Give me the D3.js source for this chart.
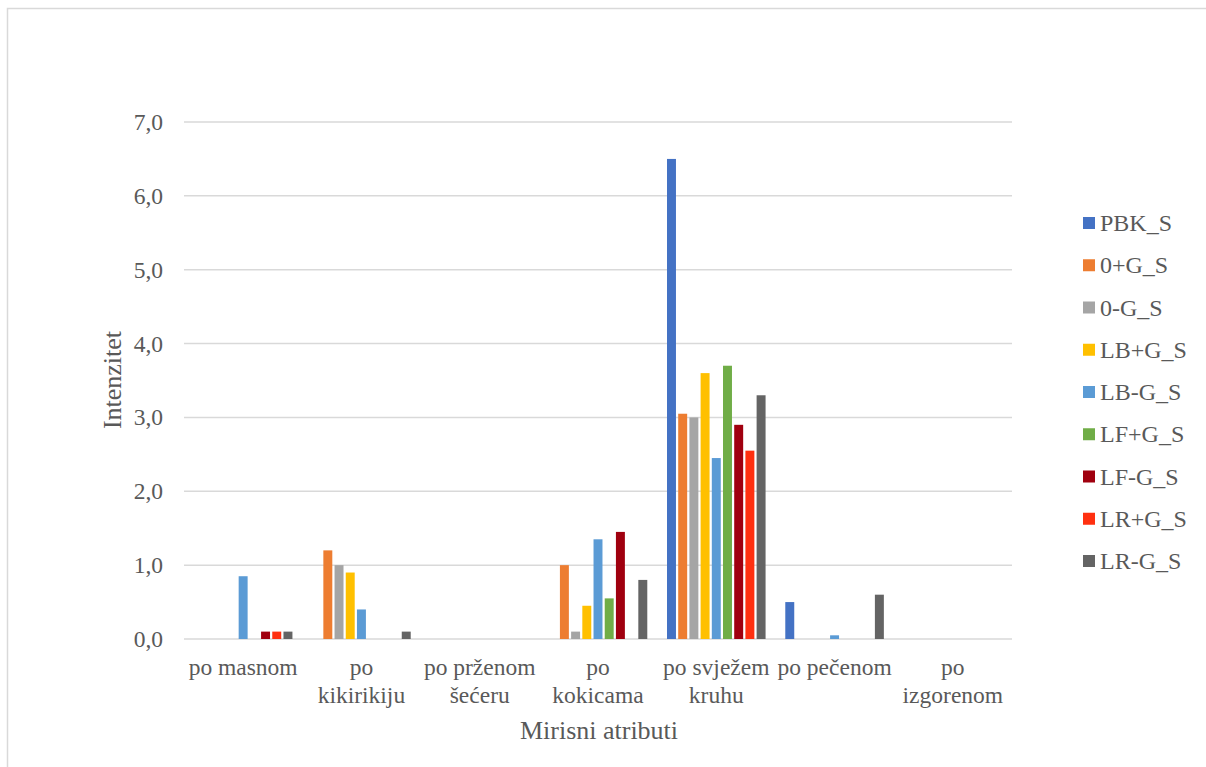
<!DOCTYPE html>
<html>
<head>
<meta charset="utf-8">
<script src="https://cdn.jsdelivr.net/npm/d3@7"></script>
<style>
  html, body { margin: 0; padding: 0; background: #fff; }
  svg { display: block; }
  text { font-family: "Liberation Serif", "Times New Roman", serif; fill: #595959; }
</style>
</head>
<body>
<svg id="chart" width="1206" height="767"></svg>
<script>
// ---- data ----
const categories = ["po masnom", "po\nkikirikiju", "po prženom\nšećeru", "po\nkokicama", "po svježem\nkruhu", "po pečenom", "po\nizgorenom"];
const seriesNames = ["PBK_S", "0+G_S", "0-G_S", "LB+G_S", "LB-G_S", "LF+G_S", "LF-G_S", "LR+G_S", "LR-G_S"];
const seriesColors = ["#4472C4", "#ED7D31", "#A5A5A5", "#FFC000", "#5B9BD5", "#70AD47", "#A0000F", "#FF3010", "#646464"];
const PBK_S  = [0,    0,   0, 0,    6.5,  0.5,  0];
const G0p_S  = [0,    1.2, 0, 1.0,  3.05, 0,    0];
const G0m_S  = [0,    1.0, 0, 0.1,  3.0,  0,    0];
const LBp_S  = [0,    0.9, 0, 0.45, 3.6,  0,    0];
const LBm_S  = [0.85, 0.4, 0, 1.35, 2.45, 0.05, 0];
const LFp_S  = [0,    0,   0, 0.55, 3.7,  0,    0];
const LFm_S  = [0.1,  0,   0, 1.45, 2.9,  0,    0];
const LRp_S  = [0.1,  0,   0, 0,    2.55, 0,    0];
const LRm_S  = [0.1,  0.1, 0, 0.8,  3.3,  0.6,  0];
const seriesValues = [PBK_S, G0p_S, G0m_S, LBp_S, LBm_S, LFp_S, LFm_S, LRp_S, LRm_S];
const yTicks = [0, 1, 2, 3, 4, 5, 6, 7];
const yTitle = "Intenzitet";
const xTitle = "Mirisni atributi";

// ---- layout ----
const svg = d3.select("#chart");
const plot = { left: 184, right: 1012, top: 122, bottom: 639 };

svg.append("rect")
  .attr("x", 7.5).attr("y", 8.5).attr("width", 1220).attr("height", 780)
  .attr("fill", "#fff").attr("stroke", "#D9D9D9").attr("stroke-width", 1.5);

const x0 = d3.scaleBand().domain(categories).range([plot.left, plot.right]).padding(0);
const x1 = d3.scaleBand().domain(seriesNames).range([0, x0.bandwidth()]).paddingInner(0.2).paddingOuter(0.88);
const y = d3.scaleLinear().domain([0, 7]).range([plot.bottom, plot.top]);

// gridlines
svg.append("g").selectAll("line").data(yTicks).join("line")
  .attr("x1", plot.left).attr("x2", plot.right)
  .attr("y1", d => y(d)).attr("y2", d => y(d))
  .attr("stroke", "#D9D9D9").attr("stroke-width", 1.5);

// y tick labels
const fmt = d => d3.format(".1f")(d).replace(".", ",");
svg.append("g").selectAll("text").data(yTicks).join("text")
  .attr("x", 163).attr("y", d => y(d)).attr("dy", "0.34em")
  .attr("text-anchor", "end").attr("font-size", 23.5)
  .text(fmt);

// bars
const rows = [];
seriesNames.forEach((s, si) => {
  categories.forEach((c, ci) => {
    rows.push({ s, c, v: seriesValues[si][ci], color: seriesColors[si] });
  });
});
svg.append("g").selectAll("rect").data(rows.filter(d => d.v > 0)).join("rect")
  .attr("x", d => x0(d.c) + x1(d.s))
  .attr("width", x1.bandwidth())
  .attr("y", d => y(d.v))
  .attr("height", d => y(0) - y(d.v))
  .attr("fill", d => d.color);

// category labels
const catG = svg.append("g");
categories.forEach(c => {
  const t = catG.append("text")
    .attr("x", x0(c) + x0.bandwidth() / 2)
    .attr("y", 675)
    .attr("text-anchor", "middle").attr("font-size", 23.5);
  c.split("\n").forEach((line, i) => {
    t.append("tspan").attr("x", x0(c) + x0.bandwidth() / 2).attr("dy", i === 0 ? 0 : 28).text(line);
  });
});

// axis titles
svg.append("text").attr("x", (plot.left + plot.right) / 2 + 1).attr("y", 739)
  .attr("text-anchor", "middle").attr("font-size", 26).text(xTitle);
svg.append("text").attr("transform", "translate(121,380) rotate(-90)")
  .attr("text-anchor", "middle").attr("font-size", 26).text(yTitle);

// legend
const leg = svg.append("g").selectAll("g").data(seriesNames).join("g")
  .attr("transform", (d, i) => `translate(1083, ${223 + i * 42.25})`);
leg.append("rect").attr("x", 0).attr("y", -6).attr("width", 12).attr("height", 12)
  .attr("fill", (d, i) => seriesColors[i]);
leg.append("text").attr("x", 17).attr("y", 0).attr("dy", "0.34em")
  .attr("font-size", 24).text(d => d);
</script>
</body>
</html>
